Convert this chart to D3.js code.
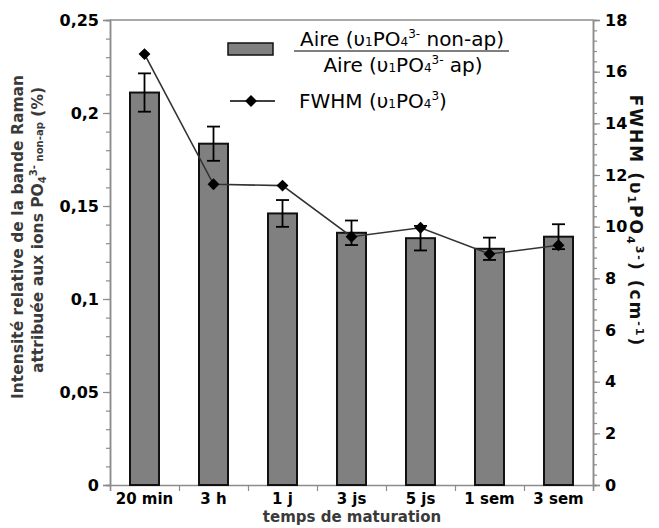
<!DOCTYPE html>
<html><head><meta charset="utf-8">
<script src="https://cdn.jsdelivr.net/npm/d3@7"></script>
<style>
body{margin:0;background:#fff;}
svg{display:block;font-family:"DejaVu Sans",sans-serif;}
</style></head>
<body>
<svg id="chart" width="659" height="528"></svg>
<script>
const categories = ["20 min","3 h","1 j","3 js","5 js","1 sem","3 sem"];
const ratio = [0.211, 0.1835, 0.146, 0.1356, 0.1327, 0.127, 0.1335];
const ratioErr = [0.0103, 0.0092, 0.0072, 0.0066, 0.0066, 0.006, 0.0067];
const fwhm = [16.68, 11.64, 11.59, 9.61, 9.96, 8.94, 9.28];
const leftTicks = [0, 0.05, 0.1, 0.15, 0.2, 0.25];
const leftTickLabels = ["0","0,05","0,1","0,15","0,2","0,25"];
const rightTicks = [0,2,4,6,8,10,12,14,16,18];

const FONT = "'DejaVu Sans',sans-serif";
const svg = d3.select("#chart");
const L = 110, R = 593, T = 20, B = 485;
const axisCol = "#8c8c8c";

const x = d3.scaleBand().domain(categories).range([L,R]).paddingInner(0.58).paddingOuter(0.29);
const xIdx = d3.scaleLinear().domain([0,categories.length]).range([L,R]);
const yL = d3.scaleLinear().domain([0,0.25]).range([B,T]);
const yR = d3.scaleLinear().domain([0,18]).range([B,T]);

// top border
svg.append("line").attr("x1",L).attr("x2",R).attr("y1",T).attr("y2",T)
  .attr("stroke",axisCol).attr("stroke-width",1.5);

function styleAxis(g, fs){
  g.select(".domain").attr("stroke",axisCol).attr("stroke-width",1.5);
  g.selectAll(".tick line").attr("stroke",axisCol).attr("stroke-width",1.2);
  g.selectAll("text").attr("font-size",fs||15).attr("font-weight","bold").attr("fill","#000")
   .attr("font-family",FONT);
}

// left axis minor
const gLm = svg.append("g").attr("transform",`translate(${L},0)`)
  .call(d3.axisLeft(yL).tickValues(d3.range(0,0.2501,0.01)).tickSize(4).tickFormat(""));
styleAxis(gLm); gLm.selectAll("text").remove();
const gL = svg.append("g").attr("transform",`translate(${L},0)`)
  .call(d3.axisLeft(yL).tickValues(leftTicks).tickSize(7).tickPadding(4)
    .tickFormat((d,i)=>leftTickLabels[i]));
styleAxis(gL, 16);

// right axis
const gRm = svg.append("g").attr("transform",`translate(${R},0)`)
  .call(d3.axisRight(yR).tickValues(d3.range(0,18.01,0.4)).tickSize(4).tickFormat(""));
styleAxis(gRm); gRm.selectAll("text").remove();
const gR = svg.append("g").attr("transform",`translate(${R},0)`)
  .call(d3.axisRight(yR).tickValues(rightTicks).tickSize(7).tickPadding(5));
styleAxis(gR, 16);

// bottom axis
const gBt = svg.append("g").attr("transform",`translate(0,${B})`)
  .call(d3.axisBottom(xIdx).tickValues(d3.range(0,categories.length+1)).tickSize(6).tickFormat(""));
styleAxis(gBt); gBt.selectAll("text").remove();
const gB = svg.append("g").attr("transform",`translate(0,${B})`)
  .call(d3.axisBottom(x).tickSize(0).tickPadding(8));
styleAxis(gB, 15);
gB.select(".domain").remove();

// bars
svg.append("g").selectAll("rect").data(categories).join("rect")
  .attr("x",d=>x(d)).attr("width",x.bandwidth())
  .attr("y",(d,i)=>yL(ratio[i])).attr("height",(d,i)=>B-yL(ratio[i]))
  .attr("fill","#808080").attr("stroke","#111").attr("stroke-width",2);

// error bars
const eg = svg.append("g").attr("stroke","#000").attr("stroke-width",1.8);
categories.forEach((c,i)=>{
  const cx = x(c)+x.bandwidth()/2;
  const y1 = yL(ratio[i]+ratioErr[i]), y2 = yL(ratio[i]-ratioErr[i]);
  eg.append("line").attr("x1",cx).attr("x2",cx).attr("y1",y1).attr("y2",y2);
  eg.append("line").attr("x1",cx-6.5).attr("x2",cx+6.5).attr("y1",y1).attr("y2",y1);
  eg.append("line").attr("x1",cx-6.5).attr("x2",cx+6.5).attr("y1",y2).attr("y2",y2);
});

// FWHM line
const line = d3.line().x((d,i)=>x(categories[i])+x.bandwidth()/2).y(d=>yR(d));
svg.append("path").datum(fwhm).attr("d",line).attr("fill","none")
  .attr("stroke","#333").attr("stroke-width",1.6);
const diamond = d3.symbol().type(d3.symbolDiamond2).size(90);
svg.append("g").selectAll("path").data(fwhm).join("path")
  .attr("d",diamond)
  .attr("transform",(d,i)=>`translate(${x(categories[i])+x.bandwidth()/2},${yR(d)})`)
  .attr("fill","#000");

// legend
const lg = svg.append("g").attr("font-size",20).attr("fill","#000").attr("font-family",FONT);
lg.append("rect").attr("x",228).attr("y",43).attr("width",45).attr("height",12)
  .attr("fill","#808080").attr("stroke","#111").attr("stroke-width",1.5);
function chemText(g, xPos, yPos, anchor, parts){
  const t = g.append("text").attr("x",xPos).attr("y",yPos).attr("text-anchor",anchor);
  parts.forEach(p=>{
    const s = t.append("tspan").text(p.t);
    if(p.sub) s.attr("font-size","0.6em");
    if(p.dy) s.attr("dy",p.dy);
  });
  return t;
}
chemText(lg, 402, 46, "middle", [
  {t:"Aire (υ"},{t:"1",sub:true},{t:"PO"},{t:"4",sub:true},{t:"3-",sub:true,dy:-8},{t:" non-ap)",dy:8}
]);
lg.append("line").attr("x1",294).attr("x2",509).attr("y1",51).attr("y2",51)
  .attr("stroke","#000").attr("stroke-width",1.2);
chemText(lg, 403, 72, "middle", [
  {t:"Aire (υ"},{t:"1",sub:true},{t:"PO"},{t:"4",sub:true},{t:"3-",sub:true,dy:-8},{t:" ap)",dy:8}
]);
lg.append("line").attr("x1",230).attr("x2",275).attr("y1",101).attr("y2",101)
  .attr("stroke","#000").attr("stroke-width",1.5);
lg.append("path").attr("d",diamond).attr("transform","translate(251,101)").attr("fill","#000");
chemText(lg, 299, 108, "start", [
  {t:"FWHM (υ"},{t:"1",sub:true},{t:"PO"},{t:"4",sub:true},{t:"3",sub:true,dy:-8},{t:")",dy:8}
]);

// axis titles
const tg = svg.append("g").attr("font-size",15.5).attr("font-weight","bold").attr("fill","#3a3a3a").attr("font-family",FONT);
tg.append("text").attr("transform","translate(23,237) rotate(-90)").attr("text-anchor","middle")
  .text("Intensité relative de la bande Raman");
const t2 = tg.append("text").attr("transform","translate(43,230) rotate(-90)").attr("text-anchor","middle");
t2.append("tspan").text("attribuée aux ions PO");
t2.append("tspan").attr("font-size","0.65em").attr("dy",3).text("4");
t2.append("tspan").attr("font-size","0.65em").attr("dy",-9).text("3-");
t2.append("tspan").attr("font-size","0.65em").attr("dy",6).text(" non-ap");
t2.append("tspan").text(" (%)");

const t3 = tg.append("text").attr("transform","translate(630,221) rotate(90)").attr("text-anchor","middle")
  .attr("fill","#111").attr("font-size",17).attr("letter-spacing",2);
t3.append("tspan").text("FWHM (υ");
t3.append("tspan").attr("font-size","0.65em").attr("dy",2).text("1");
t3.append("tspan").attr("dy",-2).text("PO");
t3.append("tspan").attr("font-size","0.65em").attr("dy",3).text("4");
t3.append("tspan").attr("font-size","0.65em").attr("dy",-9).text("3-");
t3.append("tspan").attr("dy",6).text(") (cm");
t3.append("tspan").attr("font-size","0.65em").attr("dy",-6).text("-1");
t3.append("tspan").attr("dy",6).text(")");

tg.append("text").attr("x",352).attr("y",522).attr("font-size",15).attr("text-anchor","middle").text("temps de maturation");
</script>
</body></html>
